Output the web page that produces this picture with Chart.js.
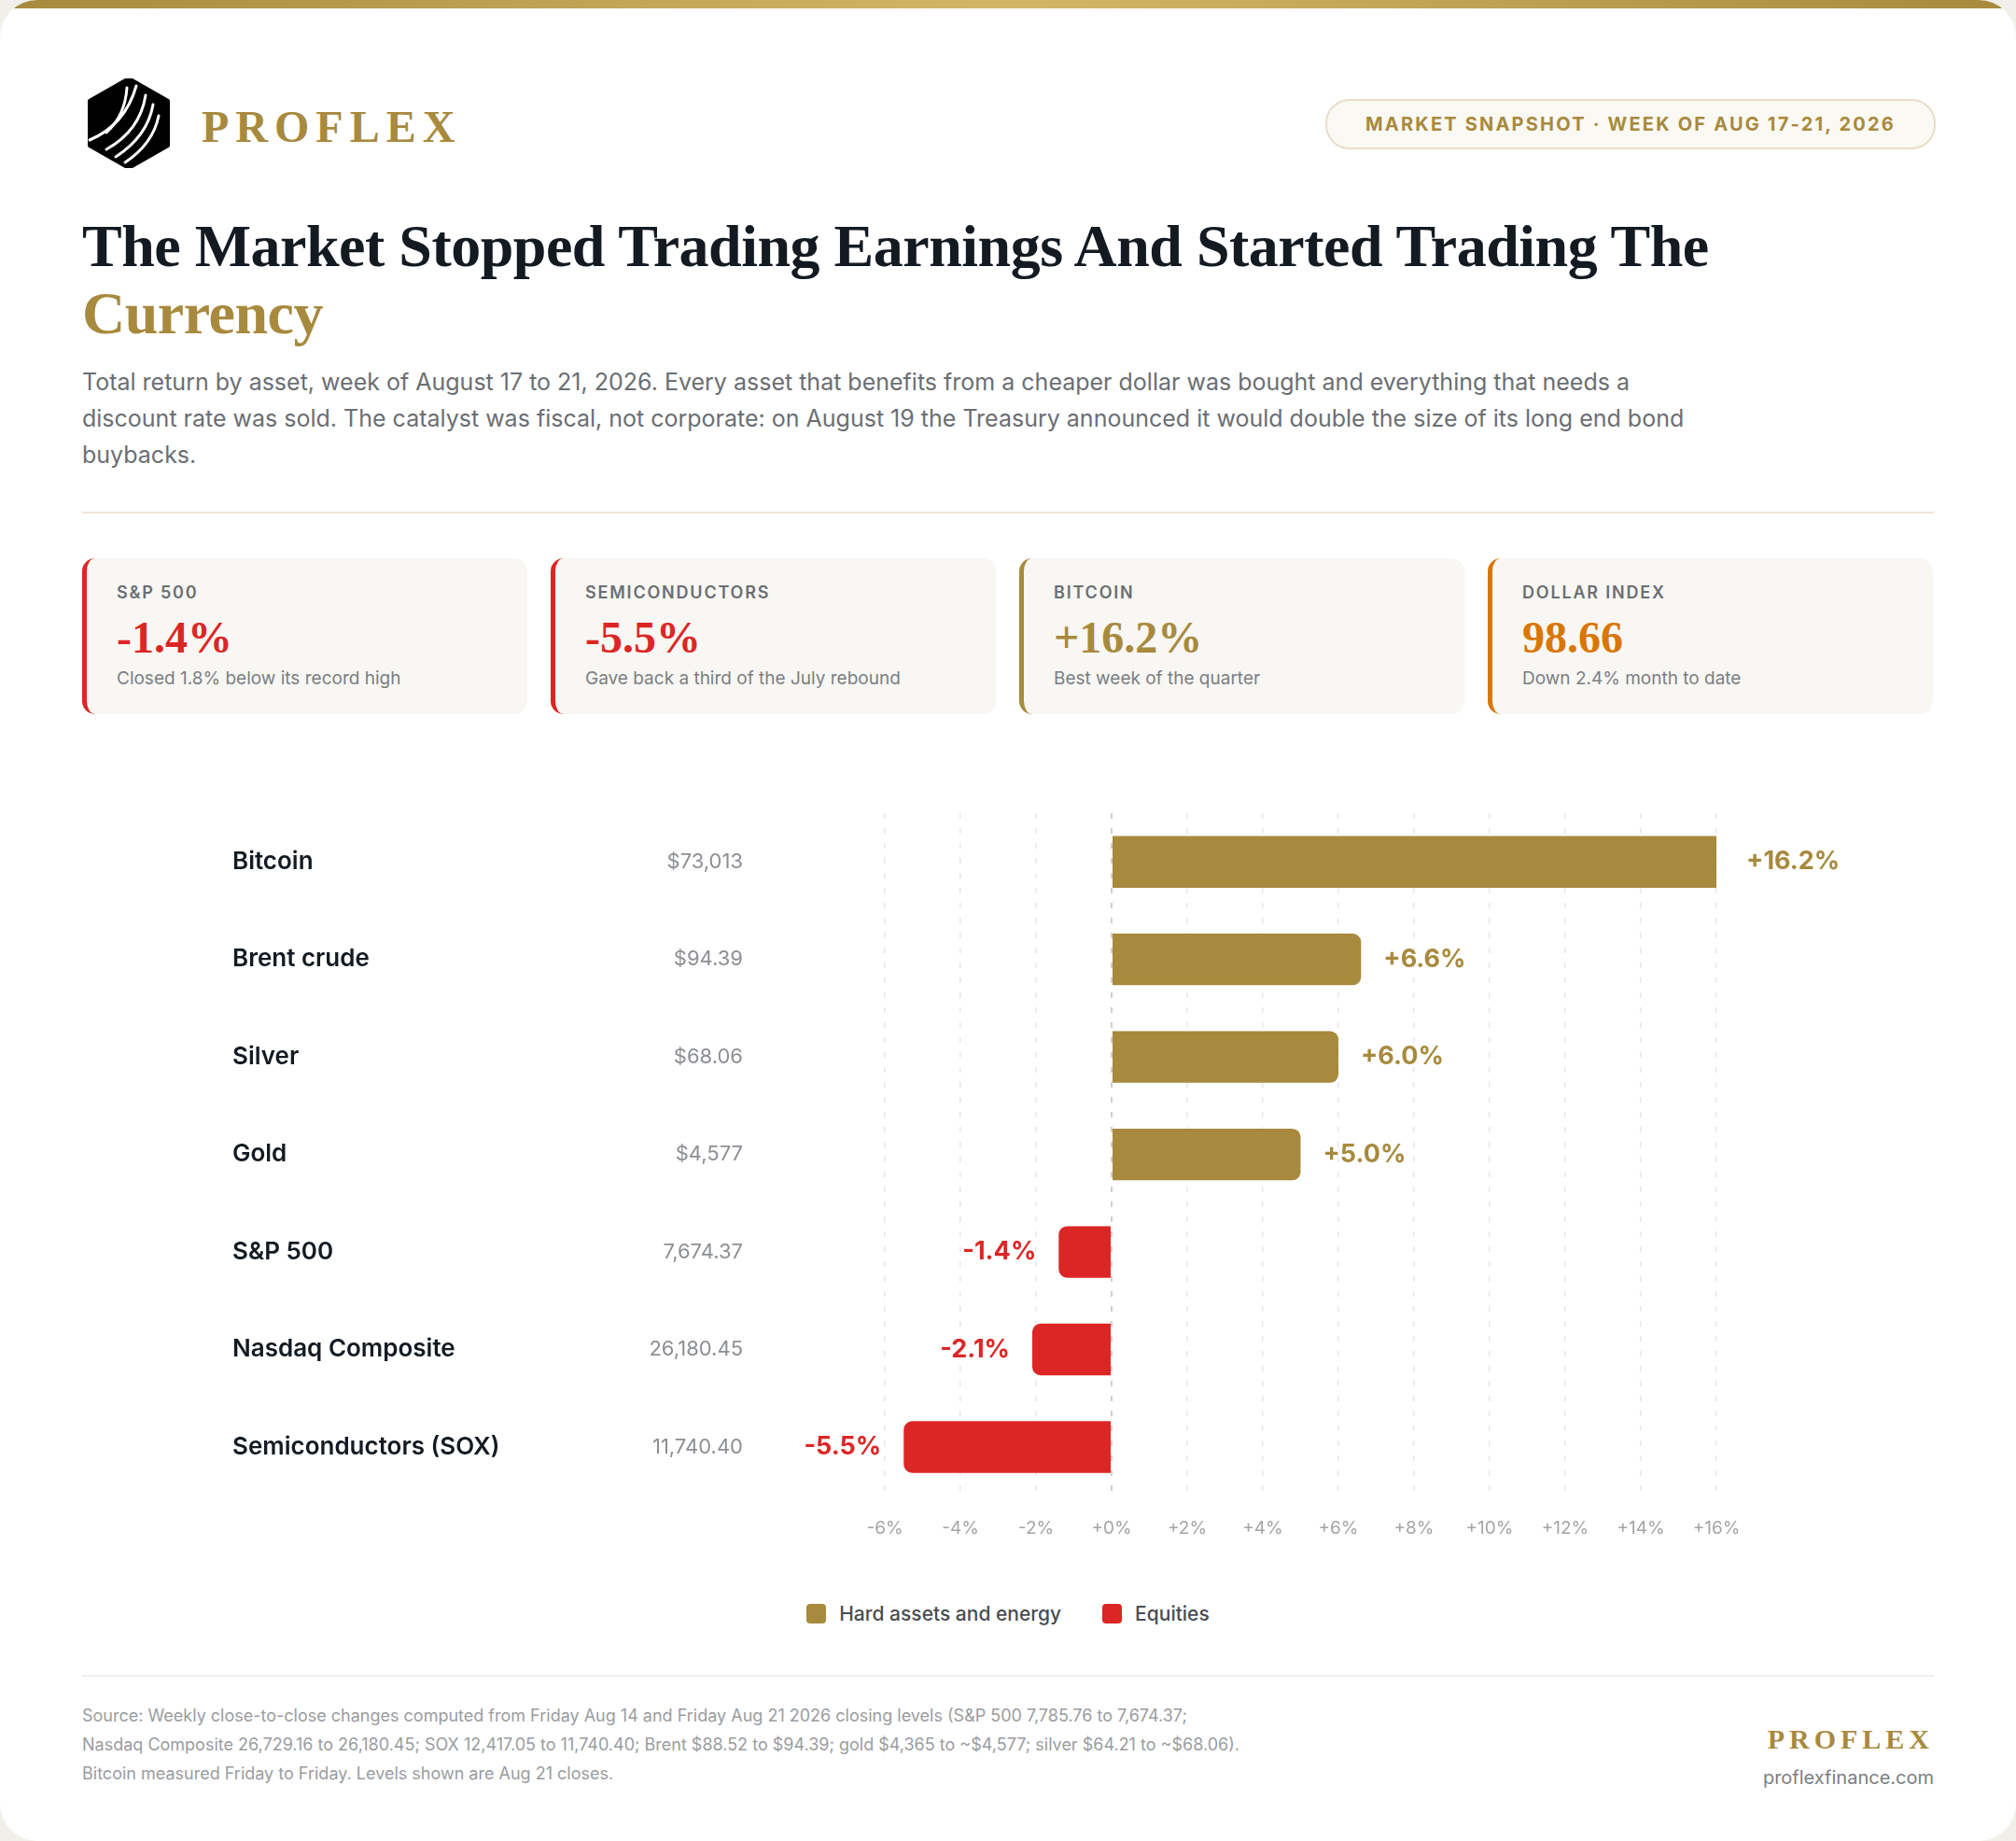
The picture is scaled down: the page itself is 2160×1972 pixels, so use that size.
<!DOCTYPE html>
<html><head><meta charset="utf-8">
<script src="https://cdn.jsdelivr.net/npm/chart.js@4/dist/chart.umd.min.js"></script>
<style>
body{margin:0;background:#f1efe9;font-family:Inter,sans-serif;}
.card{position:relative;width:2160px;height:1972px;background:#fff;border-radius:40px;overflow:hidden;}
.top{position:absolute;left:0;top:0;width:100%;height:9px;background:linear-gradient(90deg,#a88a3e,#d4b766,#a88a3e);}
.logo{position:absolute;left:94px;top:84px;}
.brand{position:absolute;left:216px;top:108px;font:700 48px "Liberation Serif",serif;letter-spacing:7px;color:#a88a3e;}
.pill{position:absolute;left:1420px;top:106px;width:650px;height:50px;border:2px solid #e6dfc9;border-radius:26px;background:#fbf9f3;color:#a88a3e;font:700 20px Inter;letter-spacing:2.2px;display:flex;align-items:center;justify-content:center;}
h1{position:absolute;left:88px;top:228px;margin:0;width:1950px;font:700 64px/72px "Liberation Serif",serif;color:#141a22;letter-spacing:-0.5px;}
h1 span{color:#a88a3e}
.sub{position:absolute;left:88px;top:390px;width:1740px;font:400 25px/39px Inter;color:#6b6e73;}
.rule{position:absolute;left:88px;top:548px;width:1984px;height:2px;background:#f0e6d6;}
.kpi{position:absolute;top:598px;width:477px;height:167px;background:#f8f7f3;border-radius:14px;border-left:5px solid;box-sizing:border-box;padding:26px 0 0 32px;}
.kpi .l{font:600 18px Inter;letter-spacing:1.8px;color:#6b6e73;}
.kpi .v{font:700 48px/60px "Liberation Serif",serif;margin-top:8px;}
.kpi .d{font:400 19px Inter;color:#7b7e83;margin-top:2px;}
#wrap{position:absolute;left:0;top:847px;width:2160px;height:830px;}
.legend{position:absolute;left:0;top:1716px;width:2160px;display:flex;justify-content:center;gap:44px;font:500 21px Inter;color:#4a4d52;}
.legend span{display:flex;align-items:center;gap:14px;}
.legend i{display:inline-block;width:21px;height:21px;border-radius:4px;}
.frule{position:absolute;left:88px;top:1794px;width:1984px;height:2px;background:#eeeeee;}
.src{position:absolute;left:88px;top:1822px;width:1250px;font:400 18px/31px Inter;color:#9a9c9f;}
.fb{position:absolute;right:88px;top:1846px;font:700 30px "Liberation Serif",serif;letter-spacing:5px;color:#a88a3e;}
.fu{position:absolute;right:88px;top:1892px;font:400 20px Inter;color:#7b7e83;}
</style></head><body>
<div class="card">
<div class="top"></div>
<svg class="logo" width="88" height="96" viewBox="0 0 88 96">
<path d="M44 0 L86 24 L86 72 L44 96 L2 72 L2 24 Z" fill="#000" stroke="#000" stroke-width="4" stroke-linejoin="round"/>
<g fill="none" stroke="#fff" stroke-width="3" stroke-linecap="round">
<path d="M2 66 Q40 50 52 8"/><path d="M20 76 Q56 56 62 18"/><path d="M30 84 Q64 62 70 28"/><path d="M40 90 Q70 70 76 40"/><path d="M20 58 Q40 40 42 10"/>
</g></svg>
<div class="brand">PROFLEX</div>
<div class="pill">MARKET SNAPSHOT · WEEK OF AUG 17-21, 2026</div>
<h1>The Market Stopped Trading Earnings And Started Trading The <span>Currency</span></h1>
<div class="sub">Total return by asset, week of August 17 to 21, 2026. Every asset that benefits from a cheaper dollar was bought and everything that needs a discount rate was sold. The catalyst was fiscal, not corporate: on August 19 the Treasury announced it would double the size of its long end bond buybacks.</div>
<div class="rule"></div>
<div class="kpi" style="left:88px;border-color:#dc2626"><div class="l">S&amp;P 500</div><div class="v" style="color:#dc2626">-1.4%</div><div class="d">Closed 1.8% below its record high</div></div>
<div class="kpi" style="left:590px;border-color:#dc2626"><div class="l">SEMICONDUCTORS</div><div class="v" style="color:#dc2626">-5.5%</div><div class="d">Gave back a third of the July rebound</div></div>
<div class="kpi" style="left:1092px;border-color:#a88a3e"><div class="l">BITCOIN</div><div class="v" style="color:#a88a3e">+16.2%</div><div class="d">Best week of the quarter</div></div>
<div class="kpi" style="left:1594px;border-color:#d97706"><div class="l">DOLLAR INDEX</div><div class="v" style="color:#d97706">98.66</div><div class="d">Down 2.4% month to date</div></div>
<div id="wrap"><canvas id="c"></canvas></div>
<div class="legend"><span><i style="background:#a88a3e"></i>Hard assets and energy</span><span><i style="background:#dc2626"></i>Equities</span></div>
<div class="frule"></div>
<div class="src">Source: Weekly close-to-close changes computed from Friday Aug 14 and Friday Aug 21 2026 closing levels (S&amp;P 500 7,785.76 to 7,674.37; Nasdaq Composite 26,729.16 to 26,180.45; SOX 12,417.05 to 11,740.40; Brent $88.52 to $94.39; gold $4,365 to ~$4,577; silver $64.21 to ~$68.06). Bitcoin measured Friday to Friday. Levels shown are Aug 21 closes.</div>
<div class="fb">PROFLEX</div>
<div class="fu">proflexfinance.com</div>
</div>
<script>
const assets = ['Bitcoin','Brent crude','Silver','Gold','S&P 500','Nasdaq Composite','Semiconductors (SOX)'];
const levels = ['$73,013','$94.39','$68.06','$4,577','7,674.37','26,180.45','11,740.40'];
const returns = [16.2, 6.6, 6.0, 5.0, -1.4, -2.1, -5.5];
const groups = ['hard','hard','hard','hard','eq','eq','eq'];
const GOLD = '#a88a3e', RED = '#dc2626';

const hardData = returns.map((v,i)=>groups[i]==='hard'?v:null);
const eqData = returns.map((v,i)=>groups[i]==='eq'?v:null);

const sidePlugin = {
  id:'side',
  afterDatasetsDraw(chart){
    const {ctx, scales:{y}} = chart;
    ctx.save();
    ctx.textBaseline='middle';
    assets.forEach((a,i)=>{
      const py = y.getPixelForValue(i);
      ctx.fillStyle='#141a22'; ctx.textAlign='left'; ctx.font='600 26px Inter';
      ctx.fillText(a, 249, py);
      ctx.fillStyle='#8c8f93'; ctx.textAlign='right'; ctx.font='400 22px Inter';
      ctx.fillText(levels[i], 796, py);
    });
    chart.data.datasets.forEach((ds,di)=>{
      chart.getDatasetMeta(di).data.forEach((bar,i)=>{
        const v = ds.data[i]; if(v==null) return;
        ctx.fillStyle = ds.backgroundColor; ctx.font='700 27px Inter';
        const t = (v>0?'+':'')+v.toFixed(1)+'%';
        if(v>=0){ctx.textAlign='left'; ctx.fillText(t, bar.x+24, bar.y);}
        else {ctx.textAlign='right'; ctx.fillText(t, bar.x-24, bar.y);}
      });
    });
    ctx.restore();
  }
};

new Chart(document.getElementById('c'), {
  type:'bar',
  data:{labels:assets, datasets:[
    {label:'Hard assets and energy', data:hardData, backgroundColor:GOLD, borderRadius:9, borderSkipped:'start', barPercentage:0.53, categoryPercentage:1},
    {label:'Equities', data:eqData, backgroundColor:RED, borderRadius:9, borderSkipped:'start', barPercentage:0.53, categoryPercentage:1}
  ]},
  options:{
    indexAxis:'y', responsive:true, maintainAspectRatio:false, animation:false,
    layout:{padding:{left:948, right:321, top:24, bottom:4}},
    scales:{
      y:{stacked:true, display:false},
      x:{min:-6, max:16, stacked:true,
        ticks:{stepSize:2, color:'#a3a5a8', font:{family:'Inter', size:19}, padding:24,
          callback:v=>(v>=0?'+':'')+v+'%'},
        grid:{color:c=>c.tick.value===0?'#cfcfcf':'#e8e8e8', lineWidth:c=>c.tick.value===0?2:1.5,
          drawTicks:false},
        border:{display:false, dash:[6,10]}
      }
    },
    plugins:{tooltip:{enabled:false}, legend:{display:false}}
  },
  plugins:[sidePlugin]
});
</script>
</body></html>
